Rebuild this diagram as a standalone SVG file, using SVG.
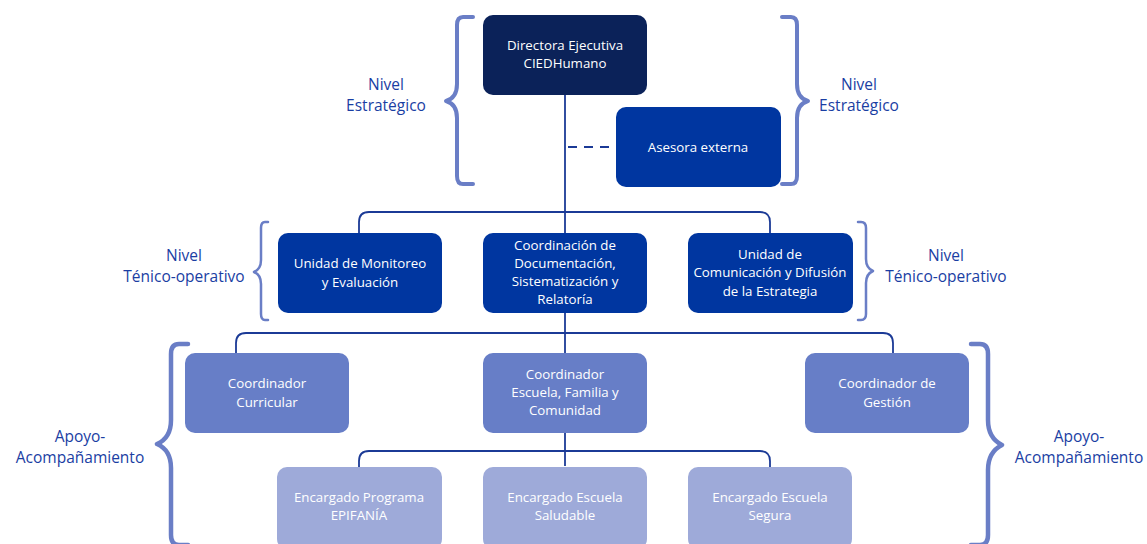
<svg xmlns="http://www.w3.org/2000/svg" width="1147" height="544" viewBox="0 0 1147 544">
<style>
.bx{stroke:none}
.d0{fill:#0b2259}
.d1{fill:#0036a0}
.d2{fill:#677ec7}
.d3{fill:#9eaad9}
.t{font-family:"Open Sans","Noto Sans",sans-serif;font-size:13.3px;fill:#ffffff;text-anchor:middle}
.lb{font-family:"Open Sans","Noto Sans",sans-serif;font-size:15.5px;fill:#1a3ea3;text-anchor:middle}
.cn{fill:none;stroke:#1b3a96;stroke-width:1.8}
.br{fill:none;stroke:#6a7ec6;stroke-linecap:round;stroke-linejoin:round}
</style>
<rect width="1147" height="544" fill="#ffffff"/>
<g id="connectors">
<path class="cn" d="M565,95 V466"/>
<path class="cn" d="M568,147 H616" stroke-dasharray="9 7"/>
<path class="cn" d="M359,233 V222 Q359,212 369,212 H760 Q770,212 770,222 V233"/>
<path class="cn" d="M236,353 V343 Q236,333 246,333 H883 Q893,333 893,343 V353"/>
<path class="cn" d="M359,467 V461 Q359,451 369,451 H760 Q770,451 770,461 V467"/>
</g>
<g id="braces">
<path class="br" stroke-width="4" d="M473,17 H463 Q457,17 457,25 V84 Q457,98 446,101 Q457,104 457,118 V176 Q457,184 463,184 H473"/>
<path class="br" stroke-width="4" d="M782,17 H791 Q797,17 797,25 V84 Q797,98 808,101 Q797,104 797,118 V176 Q797,184 791,184 H782"/>
<path class="br" stroke-width="2.5" d="M268,222 H265 Q261,222 261,228 V260 Q261,269 254,272 Q261,275 261,284 V314 Q261,320 265,320 H268"/>
<path class="br" stroke-width="2.5" d="M858,222 H861 Q866,222 866,228 V259 Q866,268 873,271 Q866,274 866,283 V314 Q866,320 861,320 H858"/>
<path class="br" stroke-width="4.5" d="M188,344 H179 Q171,344 171,354 V420 Q171,438 157,444 Q171,450 171,468 V535 Q171,545 179,545 H188"/>
<path class="br" stroke-width="4.5" d="M971,344 H980 Q988,344 988,354 V420 Q988,438 1002,445 Q988,452 988,470 V535 Q988,545 980,545 H971"/>
</g>
<g id="labels">
<text class="lb" x="386" y="90">Nivel</text>
<text class="lb" x="386" y="111">Estratégico</text>
<text class="lb" x="859" y="90">Nivel</text>
<text class="lb" x="859" y="111">Estratégico</text>
<text class="lb" x="184" y="261">Nivel</text>
<text class="lb" x="184" y="282">Ténico-operativo</text>
<text class="lb" x="946" y="261">Nivel</text>
<text class="lb" x="946" y="282">Ténico-operativo</text>
<text class="lb" x="80" y="442">Apoyo-</text>
<text class="lb" x="80" y="463">Acompañamiento</text>
<text class="lb" x="1079" y="442">Apoyo-</text>
<text class="lb" x="1079" y="463">Acompañamiento</text>
</g>
<g id="n-directora"><rect class="bx d0" x="483" y="15" width="164" height="80" rx="10"/><text class="t" x="565" y="50">Directora Ejecutiva</text><text class="t" x="565" y="68">CIEDHumano</text></g>
<g id="n-asesora"><rect class="bx d1" x="616" y="107" width="165" height="80" rx="10"/><text class="t" x="698" y="152">Asesora externa</text></g>
<g id="n-monitoreo"><rect class="bx d1" x="278" y="233" width="164" height="80" rx="10"/><text class="t" x="360" y="268">Unidad de Monitoreo</text><text class="t" x="360" y="287">y Evaluación</text></g>
<g id="n-coordinacion"><rect class="bx d1" x="483" y="233" width="164" height="80" rx="10"/><text class="t" x="565" y="250">Coordinación de</text><text class="t" x="565" y="268">Documentación,</text><text class="t" x="565" y="286">Sistematización y</text><text class="t" x="565" y="304">Relatoría</text></g>
<g id="n-comunicacion"><rect class="bx d1" x="688" y="233" width="165" height="80" rx="10"/><text class="t" x="770" y="259">Unidad de</text><text class="t" x="770" y="277">Comunicación y Difusión</text><text class="t" x="770" y="296">de la Estrategia</text></g>
<g id="n-curricular"><rect class="bx d2" x="185" y="353" width="164" height="80" rx="10"/><text class="t" x="267" y="388">Coordinador</text><text class="t" x="267" y="407">Curricular</text></g>
<g id="n-escuela"><rect class="bx d2" x="483" y="353" width="164" height="80" rx="10"/><text class="t" x="565" y="379">Coordinador</text><text class="t" x="565" y="397">Escuela, Familia y</text><text class="t" x="565" y="415">Comunidad</text></g>
<g id="n-gestion"><rect class="bx d2" x="805" y="353" width="164" height="80" rx="10"/><text class="t" x="887" y="388">Coordinador de</text><text class="t" x="887" y="407">Gestión</text></g>
<g id="n-epifania"><rect class="bx d3" x="277" y="467" width="165" height="82" rx="10"/><text class="t" x="359" y="502">Encargado Programa</text><text class="t" x="359" y="520">EPIFANÍA</text></g>
<g id="n-saludable"><rect class="bx d3" x="483" y="467" width="164" height="82" rx="10"/><text class="t" x="565" y="502">Encargado Escuela</text><text class="t" x="565" y="520">Saludable</text></g>
<g id="n-segura"><rect class="bx d3" x="688" y="467" width="164" height="82" rx="10"/><text class="t" x="770" y="502">Encargado Escuela</text><text class="t" x="770" y="520">Segura</text></g>
</svg>
